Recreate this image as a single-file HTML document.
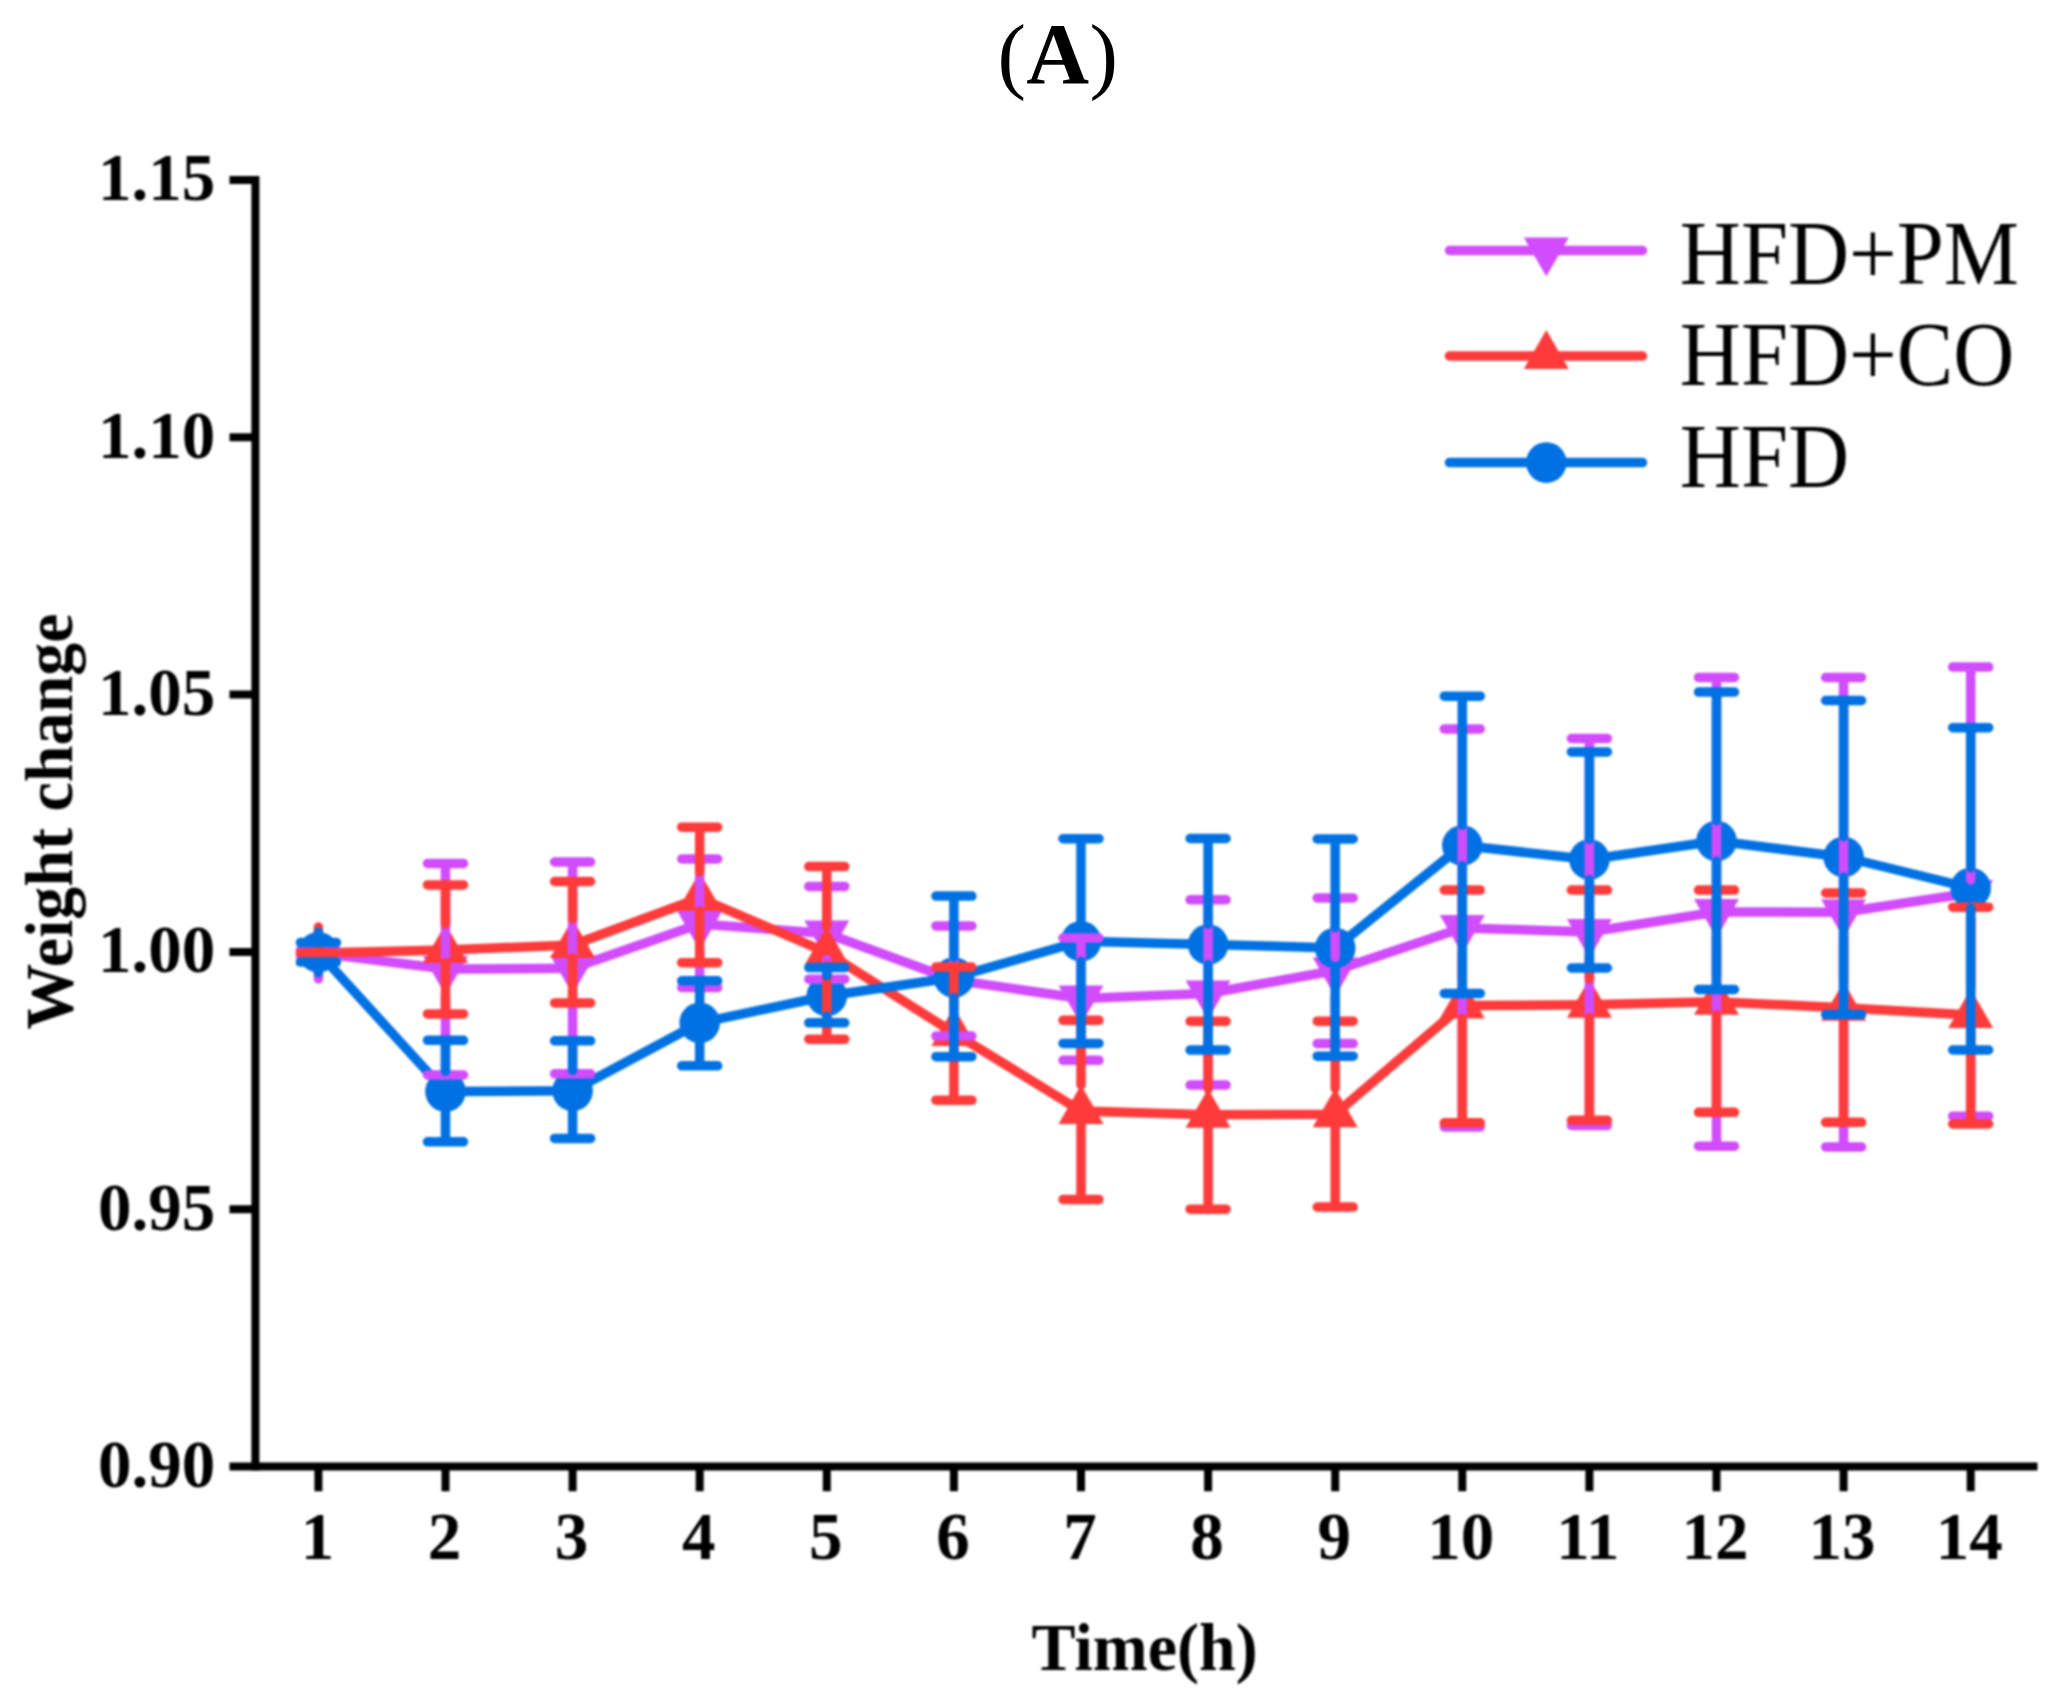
<!DOCTYPE html>
<html lang="en">
<head>
<meta charset="utf-8">
<title>(A) Weight change</title>
<style>
html,body{margin:0;padding:0;background:#fff;}
body{width:2065px;height:1702px;overflow:hidden;position:relative;}
svg{display:block;}
#chart{width:2065px;height:1702px;filter:blur(1px);}
#title{position:absolute;left:0;top:0;}
text{white-space:pre;}
</style>
</head>
<body>
<div id="chart">
<svg width="2065" height="1702" viewBox="0 0 2065 1702">
<rect width="2065" height="1702" fill="#fff"/>
<g stroke="#000" stroke-width="8" fill="none">
<path d="M255.4 176V1470.5"/>
<path d="M229.5 1466.5H2037.5"/>
<path d="M229.5 180H255.4M229.5 437.3H255.4M229.5 694.6H255.4M229.5 951.9H255.4M229.5 1209.2H255.4"/>
<path d="M318.4 1466.5V1491.3M445.5 1466.5V1491.3M572.6 1466.5V1491.3M699.7 1466.5V1491.3M826.8 1466.5V1491.3M953.9 1466.5V1491.3M1081 1466.5V1491.3M1208.1 1466.5V1491.3M1335.2 1466.5V1491.3M1462.3 1466.5V1491.3M1589.4 1466.5V1491.3M1716.5 1466.5V1491.3M1843.6 1466.5V1491.3M1970.7 1466.5V1491.3"/>
</g>
<g font-family="'Liberation Serif', serif" font-weight="bold" font-size="67" fill="#000">
<text transform="translate(215.3 200.3) scale(1 1.025)" text-anchor="end">1.15</text>
<text transform="translate(215.3 457.6) scale(1 1.025)" text-anchor="end">1.10</text>
<text transform="translate(215.3 714.9) scale(1 1.025)" text-anchor="end">1.05</text>
<text transform="translate(215.3 972.2) scale(1 1.025)" text-anchor="end">1.00</text>
<text transform="translate(215.3 1229.5) scale(1 1.025)" text-anchor="end">0.95</text>
<text transform="translate(215.3 1486.8) scale(1 1.025)" text-anchor="end">0.90</text>
<text transform="translate(317.4 1558.6) scale(1 1.0)" text-anchor="middle">1</text>
<text transform="translate(444.5 1558.6) scale(1 1.0)" text-anchor="middle">2</text>
<text transform="translate(571.6 1558.6) scale(1 1.0)" text-anchor="middle">3</text>
<text transform="translate(698.7 1558.6) scale(1 1.0)" text-anchor="middle">4</text>
<text transform="translate(825.8 1558.6) scale(1 1.0)" text-anchor="middle">5</text>
<text transform="translate(952.9 1558.6) scale(1 1.0)" text-anchor="middle">6</text>
<text transform="translate(1080 1558.6) scale(1 1.0)" text-anchor="middle">7</text>
<text transform="translate(1207.1 1558.6) scale(1 1.0)" text-anchor="middle">8</text>
<text transform="translate(1334.2 1558.6) scale(1 1.0)" text-anchor="middle">9</text>
<text transform="translate(1460.8 1558.6) scale(1 1.0)" text-anchor="middle">10</text>
<text transform="translate(1587.9 1558.6) scale(1 1.0)" text-anchor="middle">11</text>
<text transform="translate(1715 1558.6) scale(1 1.0)" text-anchor="middle">12</text>
<text transform="translate(1842.1 1558.6) scale(1 1.0)" text-anchor="middle">13</text>
<text transform="translate(1969.2 1558.6) scale(1 1.0)" text-anchor="middle">14</text>
<text transform="translate(1144.6 1670) scale(1 1.025)" text-anchor="middle" font-size="66">Time(h)</text>
<text transform="translate(72 821.6) rotate(-90) scale(1 1.025)" text-anchor="middle" font-size="66">Weight change</text>
</g>
<g font-family="'Liberation Serif', serif" font-size="84.6" fill="#000">
<path d="M1449.5 250.5H1642.5" stroke="#D04CFC" stroke-width="9.5" stroke-linecap="round" fill="none"/>
<polygon points="1546.3,276.5 1568.8,237.5 1523.8,237.5" fill="#D04CFC"/>
<text transform="translate(1679.8 284.2) scale(1 1.075)">HFD+PM</text>
<path d="M1449.5 356H1642.5" stroke="#FF3A3A" stroke-width="9.5" stroke-linecap="round" fill="none"/>
<polygon points="1546.3,330 1568.8,369 1523.8,369" fill="#FF3A3A"/>
<text transform="translate(1679.8 385.4) scale(1 1.075)">HFD+CO</text>
<path d="M1449.5 462.6H1642.5" stroke="#0071E3" stroke-width="9.5" stroke-linecap="round" fill="none"/>
<circle cx="1546.3" cy="462.6" r="20.3" fill="#0071E3"/>
<text transform="translate(1679.8 486.6) scale(1 1.075)">HFD</text>
</g>
<polyline points="318.4,953 445.5,969 572.6,968.3 699.7,924 826.8,933.5 953.9,980 1081,998.5 1208.1,993.5 1335.2,970.5 1462.3,928 1589.4,932 1716.5,912 1843.6,912.2 1970.7,893" fill="none" stroke="#D04CFC" stroke-width="9.5" stroke-linejoin="round" stroke-linecap="round"/>
<polygon points="318.4,979 340.9,940 295.9,940" fill="#D04CFC"/>
<polygon points="445.5,995 468,956 423,956" fill="#D04CFC"/>
<polygon points="572.6,994.3 595.1,955.3 550.1,955.3" fill="#D04CFC"/>
<polygon points="699.7,950 722.2,911 677.2,911" fill="#D04CFC"/>
<polygon points="826.8,959.5 849.3,920.5 804.3,920.5" fill="#D04CFC"/>
<polygon points="953.9,1006 976.4,967 931.4,967" fill="#D04CFC"/>
<polygon points="1081,1024.5 1103.5,985.5 1058.5,985.5" fill="#D04CFC"/>
<polygon points="1208.1,1019.5 1230.6,980.5 1185.6,980.5" fill="#D04CFC"/>
<polygon points="1335.2,996.5 1357.7,957.5 1312.7,957.5" fill="#D04CFC"/>
<polygon points="1462.3,954 1484.8,915 1439.8,915" fill="#D04CFC"/>
<polygon points="1589.4,958 1611.9,919 1566.9,919" fill="#D04CFC"/>
<polygon points="1716.5,938 1739,899 1694,899" fill="#D04CFC"/>
<polygon points="1843.6,938.2 1866.1,899.2 1821.1,899.2" fill="#D04CFC"/>
<polygon points="1970.7,919 1993.2,880 1948.2,880" fill="#D04CFC"/>
<polyline points="318.4,953 445.5,950 572.6,945 699.7,898 826.8,952.5 953.9,1033 1081,1111 1208.1,1114.8 1335.2,1114.2 1462.3,1005.5 1589.4,1004.8 1716.5,1001.8 1843.6,1007.8 1970.7,1015" fill="none" stroke="#FF3A3A" stroke-width="9.5" stroke-linejoin="round" stroke-linecap="round"/>
<polygon points="318.4,927 340.9,966 295.9,966" fill="#FF3A3A"/>
<polygon points="445.5,924 468,963 423,963" fill="#FF3A3A"/>
<polygon points="572.6,919 595.1,958 550.1,958" fill="#FF3A3A"/>
<polygon points="699.7,872 722.2,911 677.2,911" fill="#FF3A3A"/>
<polygon points="826.8,926.5 849.3,965.5 804.3,965.5" fill="#FF3A3A"/>
<polygon points="953.9,1007 976.4,1046 931.4,1046" fill="#FF3A3A"/>
<polygon points="1081,1085 1103.5,1124 1058.5,1124" fill="#FF3A3A"/>
<polygon points="1208.1,1088.8 1230.6,1127.8 1185.6,1127.8" fill="#FF3A3A"/>
<polygon points="1335.2,1088.2 1357.7,1127.2 1312.7,1127.2" fill="#FF3A3A"/>
<polygon points="1462.3,979.5 1484.8,1018.5 1439.8,1018.5" fill="#FF3A3A"/>
<polygon points="1589.4,978.8 1611.9,1017.8 1566.9,1017.8" fill="#FF3A3A"/>
<polygon points="1716.5,975.8 1739,1014.8 1694,1014.8" fill="#FF3A3A"/>
<polygon points="1843.6,981.8 1866.1,1020.8 1821.1,1020.8" fill="#FF3A3A"/>
<polygon points="1970.7,989 1993.2,1028 1948.2,1028" fill="#FF3A3A"/>
<polyline points="318.4,952.3 445.5,1091.6 572.6,1090.8 699.7,1022.8 826.8,996 953.9,977.5 1081,941.3 1208.1,944.5 1335.2,948 1462.3,845.5 1589.4,859.5 1716.5,841 1843.6,857 1970.7,888" fill="none" stroke="#0071E3" stroke-width="9.5" stroke-linejoin="round" stroke-linecap="round"/>
<circle cx="318.4" cy="952.3" r="20.3" fill="#0071E3"/>
<circle cx="445.5" cy="1091.6" r="20.3" fill="#0071E3"/>
<circle cx="572.6" cy="1090.8" r="20.3" fill="#0071E3"/>
<circle cx="699.7" cy="1022.8" r="20.3" fill="#0071E3"/>
<circle cx="826.8" cy="996" r="20.3" fill="#0071E3"/>
<circle cx="953.9" cy="977.5" r="20.3" fill="#0071E3"/>
<circle cx="1081" cy="941.3" r="20.3" fill="#0071E3"/>
<circle cx="1208.1" cy="944.5" r="20.3" fill="#0071E3"/>
<circle cx="1335.2" cy="948" r="20.3" fill="#0071E3"/>
<circle cx="1462.3" cy="845.5" r="20.3" fill="#0071E3"/>
<circle cx="1589.4" cy="859.5" r="20.3" fill="#0071E3"/>
<circle cx="1716.5" cy="841" r="20.3" fill="#0071E3"/>
<circle cx="1843.6" cy="857" r="20.3" fill="#0071E3"/>
<circle cx="1970.7" cy="888" r="20.3" fill="#0071E3"/>
<path d="M300.4 950H336.4M300.4 956H336.4M318.4 950V940M318.4 979V956M427.5 863.4H463.5M427.5 1075H463.5M445.5 863.4V956M445.5 995V1075M554.6 862H590.6M554.6 1073.8H590.6M572.6 862V955.3M572.6 994.3V1073.8M681.7 859H717.7M681.7 987.6H717.7M699.7 859V911M699.7 950V987.6M808.8 886.4H844.8M808.8 979.2H844.8M826.8 886.4V920.5M826.8 959.5V979.2M935.9 925.9H971.9M935.9 1036.1H971.9M953.9 925.9V967M953.9 1006V1036.1M1063 938H1099M1063 1060.3H1099M1081 938V985.5M1081 1024.5V1060.3M1190.1 899.8H1226.1M1190.1 1085.1H1226.1M1208.1 899.8V980.5M1208.1 1019.5V1085.1M1317.2 897.9H1353.2M1317.2 1043.6H1353.2M1335.2 897.9V957.5M1335.2 996.5V1043.6M1444.3 728.9H1480.3M1444.3 1127H1480.3M1462.3 728.9V915M1462.3 954V1127M1571.4 738.5H1607.4M1571.4 1125.5H1607.4M1589.4 738.5V919M1589.4 958V1125.5M1698.5 677.5H1734.5M1698.5 1146.2H1734.5M1716.5 677.5V899M1716.5 938V1146.2M1825.6 677.5H1861.6M1825.6 1147H1861.6M1843.6 677.5V899.2M1843.6 938.2V1147M1952.7 667.1H1988.7M1952.7 1116.2H1988.7M1970.7 667.1V880M1970.7 919V1116.2" fill="none" stroke="#D04CFC" stroke-width="9.5" stroke-linecap="round"/>
<path d="M300.4 953H336.4M300.4 953H336.4M318.4 953V927M318.4 966V953M427.5 884.9H463.5M427.5 1013.9H463.5M445.5 884.9V924M445.5 963V1013.9M554.6 881.5H590.6M554.6 1002.9H590.6M572.6 881.5V919M572.6 958V1002.9M681.7 827.2H717.7M681.7 962.7H717.7M699.7 827.2V872M699.7 911V962.7M808.8 866.6H844.8M808.8 1039.2H844.8M826.8 866.6V926.5M826.8 965.5V1039.2M935.9 967.1H971.9M935.9 1100.2H971.9M953.9 967.1V1007M953.9 1046V1100.2M1063 1020.3H1099M1063 1199.5H1099M1081 1020.3V1085M1081 1124V1199.5M1190.1 1021.3H1226.1M1190.1 1209.2H1226.1M1208.1 1021.3V1088.8M1208.1 1127.8V1209.2M1317.2 1021.2H1353.2M1317.2 1207H1353.2M1335.2 1021.2V1088.2M1335.2 1127.2V1207M1444.3 890.1H1480.3M1444.3 1122.8H1480.3M1462.3 890.1V979.5M1462.3 1018.5V1122.8M1571.4 890.1H1607.4M1571.4 1120.3H1607.4M1589.4 890.1V978.8M1589.4 1017.8V1120.3M1698.5 890.1H1734.5M1698.5 1112.3H1734.5M1716.5 890.1V975.8M1716.5 1014.8V1112.3M1825.6 893H1861.6M1825.6 1122.3H1861.6M1843.6 893V981.8M1843.6 1020.8V1122.3M1952.7 907.2H1988.7M1952.7 1124H1988.7M1970.7 907.2V989M1970.7 1028V1124" fill="none" stroke="#FF3A3A" stroke-width="9.5" stroke-linecap="round"/>
<path d="M300.4 942.6H336.4M300.4 962H336.4M318.4 942.6V932M318.4 972.6V962M427.5 1040.3H463.5M427.5 1141.8H463.5M445.5 1040.3V1071.3M445.5 1111.9V1141.8M554.6 1040.8H590.6M554.6 1138.4H590.6M572.6 1040.8V1070.5M572.6 1111.1V1138.4M681.7 980.8H717.7M681.7 1065.8H717.7M699.7 980.8V1002.5M699.7 1043.1V1065.8M808.8 967.6H844.8M808.8 1022.8H844.8M826.8 967.6V975.7M826.8 1016.3V1022.8M935.9 896.1H971.9M935.9 1056.7H971.9M953.9 896.1V957.2M953.9 997.8V1056.7M1063 838.7H1099M1063 1043.4H1099M1081 838.7V921M1081 961.6V1043.4M1190.1 838.5H1226.1M1190.1 1050.1H1226.1M1208.1 838.5V924.2M1208.1 964.8V1050.1M1317.2 839H1353.2M1317.2 1056.2H1353.2M1335.2 839V927.7M1335.2 968.3V1056.2M1444.3 696.2H1480.3M1444.3 993.4H1480.3M1462.3 696.2V825.2M1462.3 865.8V993.4M1571.4 751.9H1607.4M1571.4 968H1607.4M1589.4 751.9V839.2M1589.4 879.8V968M1698.5 692.1H1734.5M1698.5 989.5H1734.5M1716.5 692.1V820.7M1716.5 861.3V989.5M1825.6 700.5H1861.6M1825.6 1014.5H1861.6M1843.6 700.5V836.7M1843.6 877.3V1014.5M1952.7 727.7H1988.7M1952.7 1050H1988.7M1970.7 727.7V867.7M1970.7 908.3V1050" fill="none" stroke="#0071E3" stroke-width="9.5" stroke-linecap="round"/>
</svg>
</div>
<svg id="title" width="2065" height="140" viewBox="0 0 2065 140">
<g font-family="'Liberation Serif', serif" fill="#000">
<text x="997.5" y="82.5" font-size="85.5">(</text>
<text x="1057.6" y="82.8" font-size="87" font-weight="bold" text-anchor="middle">A</text>
<text x="1089.6" y="82.5" font-size="85.5">)</text>
</g>
</svg>
</body>
</html>
